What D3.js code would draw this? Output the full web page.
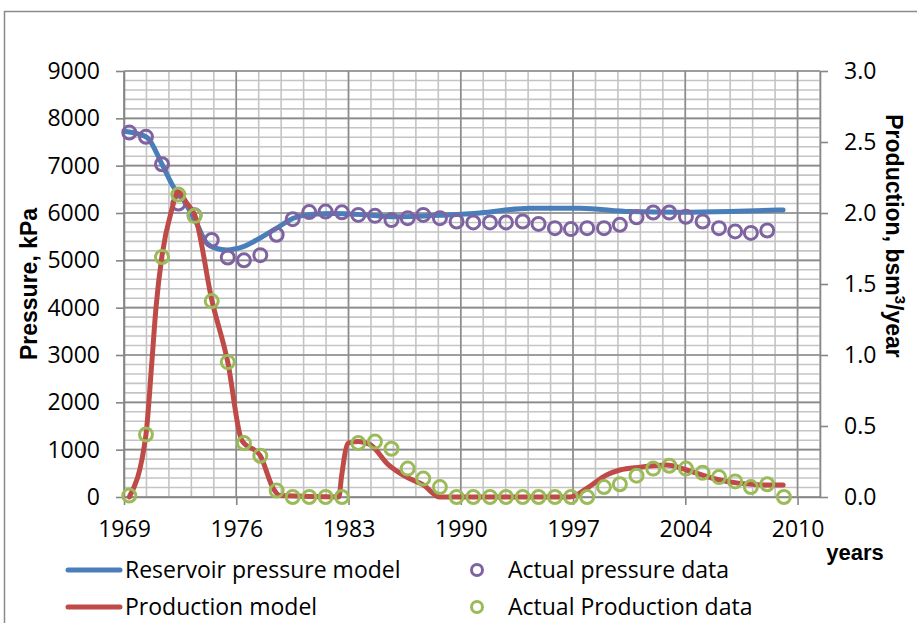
<!DOCTYPE html>
<html>
<head>
<meta charset="utf-8">
<script src="https://cdn.jsdelivr.net/npm/d3@7"></script>
<style>
  html, body { margin: 0; background: #fff; }
  svg { display: block; }
</style>
</head>
<body>
<div id="chart"></div>
<script>
// model curves
const pressureModelYears = [1969.12, 1970.42, 1971.37, 1972.07, 1972.70, 1973.53, 1974.16, 1974.78, 1975.40,
  1976.44, 1977.27, 1978.52, 1979.55, 1980.60, 1982.05, 1984.13, 1985.79, 1989.12, 1991.19, 1994.31,
  1997.43, 2000.55, 2003.66, 2006.78, 2010.10];
const pressureModelKPa = [7720, 7600, 7030, 6560, 6280, 5780, 5360, 5250, 5220,
  5290, 5430, 5680, 5890, 5970, 5990, 5960, 5920, 5960, 6000, 6100,
  6100, 6030, 6015, 6030, 6065];

const productionModelYears = [1969.33, 1970.37, 1970.73, 1971.00, 1971.37, 1971.97, 1972.37, 1972.91, 1973.43,
  1974.47, 1975.47, 1976.34, 1977.50, 1978.31, 1978.73, 1982.40, 1982.56, 1982.98, 1983.61, 1984.34,
  1985.46, 1986.62, 1987.66, 1988.70, 1996.81, 1997.85, 1999.09, 1999.92, 2001.17, 2002.83,
  2004.08, 2005.74, 2007.40, 2009.07, 2010.10];
const productionModelBsm3 = [0, 0.44, 0.94, 1.34, 1.70, 2.02, 2.15, 2.07, 1.98,
  1.39, 0.95, 0.40, 0.29, 0.06, 0.01, 0, 0.14, 0.38, 0.39, 0.37,
  0.23, 0.14, 0.085, 0, 0, 0.06, 0.155, 0.19, 0.21, 0.225,
  0.19, 0.13, 0.096, 0.085, 0.085];

// measured data
const actualYears = [1969.33, 1970.37, 1971.37, 1972.39, 1973.40, 1974.47, 1975.47, 1976.48, 1977.50, 1978.52,
  1979.52, 1980.55, 1981.57, 1982.59, 1983.61, 1984.65, 1985.68, 1986.69, 1987.66, 1988.70,
  1989.74, 1990.78, 1991.82, 1992.82, 1993.86, 1994.85, 1995.87, 1996.87, 1997.88, 1998.93,
  1999.92, 2000.96, 2002.00, 2003.00, 2004.04, 2005.08, 2006.10, 2007.11, 2008.09, 2009.11, 2010.15];
const actualPressureKPa = [7700, 7610, 7030, 6200, 5950, 5430, 5060, 5000, 5110, 5540,
  5870, 6020, 6030, 6015, 5960, 5940, 5850, 5890, 5960, 5890,
  5820, 5800, 5800, 5800, 5820, 5770, 5680, 5660, 5680, 5680,
  5750, 5910, 6010, 6010, 5920, 5820, 5680, 5610, 5580, 5630];
const actualProductionBsm3 = [0.01, 0.44, 1.69, 2.13, 1.98, 1.38, 0.95, 0.38, 0.29, 0.045,
  0, 0, 0, 0, 0.38, 0.39, 0.34, 0.20, 0.13, 0.07,
  0, 0, 0, 0, 0, 0, 0, 0, 0, 0.07,
  0.09, 0.15, 0.20, 0.22, 0.20, 0.17, 0.14, 0.11, 0.07, 0.09, 0];

// axes
const pressureTicks = [0, 1000, 2000, 3000, 4000, 5000, 6000, 7000, 8000, 9000];
const productionTicks = [0, 0.5, 1.0, 1.5, 2.0, 2.5, 3.0];
const yearTicks = [1969, 1976, 1983, 1990, 1997, 2004, 2011];
const yearTickLabels = ['1969', '1976', '1983', '1990', '1997', '2004', '2010'];

const W = 917, H = 623;
const plot = { left: 124, right: 820, top: 71, bottom: 497 };

const BLUE = '#4a7ebb', RED = '#be4b48', PURPLE = '#7f63a1', GREEN = '#9bbb59';
const tickFont = '"Open Sans", sans-serif';
const titleFont = '"Liberation Sans", Arial, sans-serif';

const svg = d3.select('#chart').append('svg')
  .attr('width', W)
  .attr('height', H);

// outer chart frame
svg.append('rect')
  .attr('x', 4.5).attr('y', 11.5)
  .attr('width', 1000).attr('height', 800)
  .attr('fill', '#fff')
  .attr('stroke', '#8a8a8a')
  .attr('stroke-width', 1.5);

const x = d3.scaleLinear().domain([1969, 2012.4]).range([plot.left, plot.right]);
const yP = d3.scaleLinear().domain([0, 9000]).range([plot.bottom, plot.top]);
const yQ = d3.scaleLinear().domain([0, 3]).range([plot.bottom, plot.top]);

// minor grid
const grid = svg.append('g');
grid.selectAll('.hminor')
  .data(d3.range(0, 9001, 200))
  .enter().append('line')
  .attr('x1', plot.left).attr('x2', plot.right)
  .attr('y1', d => yP(d)).attr('y2', d => yP(d))
  .attr('stroke', '#c4c4c4').attr('stroke-width', 1.6);
grid.selectAll('.vminor')
  .data(d3.range(1969, 2012.41, 1.4))
  .enter().append('line')
  .attr('x1', d => x(d)).attr('x2', d => x(d))
  .attr('y1', plot.top).attr('y2', plot.bottom)
  .attr('stroke', '#c4c4c4').attr('stroke-width', 1.6);

// major grid
grid.selectAll('.hmajor')
  .data(pressureTicks)
  .enter().append('line')
  .attr('x1', plot.left).attr('x2', plot.right)
  .attr('y1', d => yP(d)).attr('y2', d => yP(d))
  .attr('stroke', '#8c8c8c').attr('stroke-width', 1.6);
grid.selectAll('.vmajor')
  .data(yearTicks)
  .enter().append('line')
  .attr('x1', d => x(d)).attr('x2', d => x(d))
  .attr('y1', plot.top).attr('y2', plot.bottom)
  .attr('stroke', '#8c8c8c').attr('stroke-width', 1.6);

// axes
function styleAxis(g) {
  g.select('.domain').attr('stroke', '#868686').attr('stroke-width', 1.6);
  g.selectAll('.tick line').attr('stroke', '#868686').attr('stroke-width', 1.6);
  g.selectAll('.tick text')
    .attr('font-family', tickFont)
    .attr('font-size', '23px')
    .attr('fill', '#000');
}

svg.append('g')
  .attr('transform', `translate(${plot.left},0)`)
  .call(d3.axisLeft(yP).tickValues(pressureTicks).tickSize(8).tickPadding(16).tickSizeOuter(0)
    .tickFormat(d3.format('d')))
  .call(styleAxis);

svg.append('g')
  .attr('transform', `translate(${plot.right},0)`)
  .call(d3.axisRight(yQ).tickValues(productionTicks).tickSize(8).tickPadding(16).tickSizeOuter(0)
    .tickFormat(d3.format('.1f')))
  .call(styleAxis);

svg.append('g')
  .attr('transform', `translate(0,${plot.bottom})`)
  .call(d3.axisBottom(x).tickValues(yearTicks).tickSize(8).tickPadding(16).tickSizeOuter(0)
    .tickFormat((d, i) => yearTickLabels[i]))
  .call(styleAxis);

// axis titles
svg.append('text')
  .attr('transform', `translate(37,${(plot.top + plot.bottom) / 2}) rotate(-90)`)
  .attr('text-anchor', 'middle')
  .attr('font-family', titleFont)
  .attr('font-weight', 'bold')
  .attr('font-size', '23px')
  .text('Pressure, kPa');

const rt = svg.append('text')
  .attr('transform', 'translate(886,236) rotate(90)')
  .attr('text-anchor', 'middle')
  .attr('font-family', titleFont)
  .attr('font-weight', 'bold')
  .attr('font-size', '23px');
rt.append('tspan').text('Production, bsm');
rt.append('tspan').attr('font-size', '15px').attr('dy', -9).text('3');
rt.append('tspan').attr('dy', 9).text('/year');

svg.append('text')
  .attr('x', 855).attr('y', 560)
  .attr('text-anchor', 'middle')
  .attr('font-family', titleFont)
  .attr('font-weight', 'bold')
  .attr('font-size', '22px')
  .text('years');

// series
const pressureModel = pressureModelYears.map((yr, i) => ({ yr, v: pressureModelKPa[i] }));
const productionModel = productionModelYears.map((yr, i) => ({ yr, v: productionModelBsm3[i] }));
const pressureData = actualPressureKPa.map((v, i) => ({ yr: actualYears[i], v }));
const productionData = actualProductionBsm3.map((v, i) => ({ yr: actualYears[i], v }));

svg.append('path')
  .datum(pressureModel)
  .attr('fill', 'none')
  .attr('stroke', BLUE)
  .attr('stroke-width', 5)
  .attr('stroke-linecap', 'round')
  .attr('d', d3.line().curve(d3.curveMonotoneX).x(d => x(d.yr)).y(d => yP(d.v)));

svg.selectAll('.pdot')
  .data(pressureData)
  .enter().append('circle')
  .attr('cx', d => x(d.yr)).attr('cy', d => yP(d.v))
  .attr('r', 6.5)
  .attr('fill', 'none')
  .attr('stroke', PURPLE)
  .attr('stroke-width', 3);

svg.append('path')
  .datum(productionModel)
  .attr('fill', 'none')
  .attr('stroke', RED)
  .attr('stroke-width', 5)
  .attr('stroke-linecap', 'round')
  .attr('d', d3.line().curve(d3.curveMonotoneX).x(d => x(d.yr)).y(d => yQ(d.v)));

svg.selectAll('.qdot')
  .data(productionData)
  .enter().append('circle')
  .attr('cx', d => x(d.yr)).attr('cy', d => yQ(d.v))
  .attr('r', 6.5)
  .attr('fill', 'none')
  .attr('stroke', GREEN)
  .attr('stroke-width', 3);

// legend
const legendItems = [
  { label: 'Reservoir pressure model', color: BLUE, kind: 'line', lx: 68, ly: 570 },
  { label: 'Actual pressure data', color: PURPLE, kind: 'dot', lx: 462, ly: 570 },
  { label: 'Production model', color: RED, kind: 'line', lx: 68, ly: 607 },
  { label: 'Actual Production data', color: GREEN, kind: 'dot', lx: 462, ly: 607 }
];
const lg = svg.selectAll('.legend')
  .data(legendItems)
  .enter().append('g')
  .attr('transform', d => `translate(${d.lx},${d.ly})`);
lg.filter(d => d.kind === 'line').append('line')
  .attr('x1', 0).attr('x2', 52)
  .attr('stroke', d => d.color)
  .attr('stroke-width', 5)
  .attr('stroke-linecap', 'round');
lg.filter(d => d.kind === 'dot').append('circle')
  .attr('cx', 15).attr('r', 5.5)
  .attr('fill', 'none')
  .attr('stroke', d => d.color)
  .attr('stroke-width', 3);
lg.append('text')
  .attr('x', d => d.kind === 'line' ? 57 : 46)
  .attr('y', 8)
  .attr('font-family', tickFont)
  .attr('font-size', '23px')
  .attr('fill', '#000')
  .text(d => d.label);
</script>
</body>
</html>
